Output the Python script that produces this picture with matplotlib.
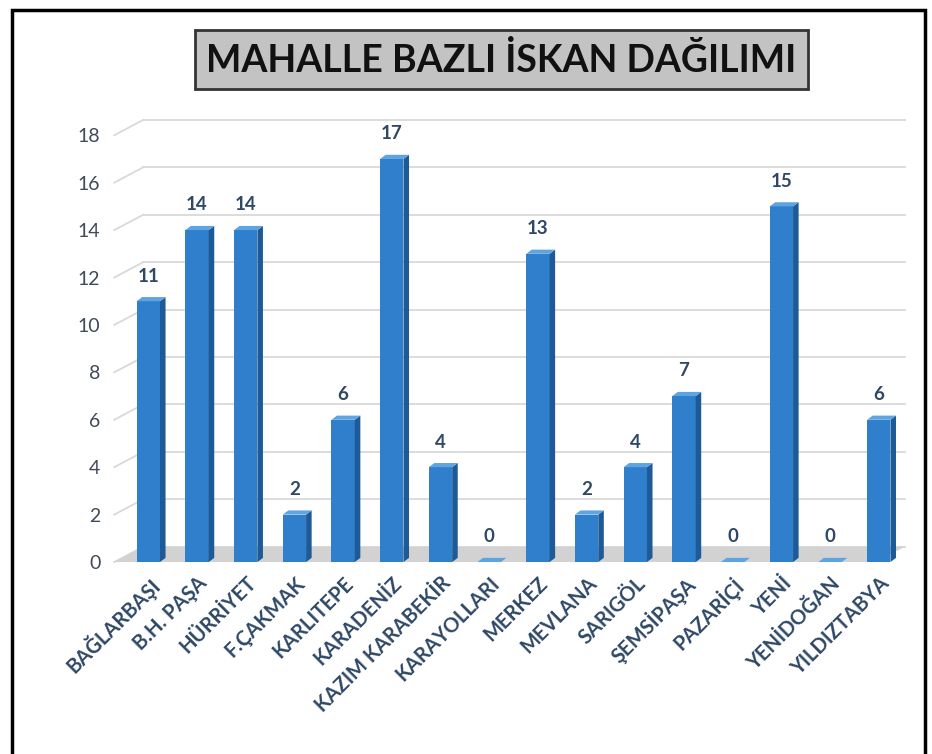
import matplotlib.pyplot as plt
import matplotlib.transforms as mtransforms
from matplotlib.patches import Polygon, Rectangle

# Mahalle names and counts
mahalleler = ['BAĞLARBAŞI', 'B.H. PAŞA', 'HÜRRİYET', 'F.ÇAKMAK', 'KARLITEPE',
              'KARADENİZ', 'KAZIM KARABEKİR', 'KARAYOLLARI', 'MERKEZ', 'MEVLANA',
              'SARIGÖL', 'ŞEMSİPAŞA', 'PAZARİÇİ', 'YENİ', 'YENİDOĞAN', 'YILDIZTABYA']
iskan = [11, 14, 14, 2, 6, 17, 4, 0, 13, 2, 4, 7, 0, 15, 0, 6]
y_ticks = [0, 2, 4, 6, 8, 10, 12, 14, 16, 18]

plt.rcParams['font.family'] = ['Lato', 'DejaVu Sans']
label_color = '#2e4866'

fig = plt.figure(figsize=(9.32, 7.54), dpi=100)
ax = fig.add_axes([0.133, 0.2546, 0.836, 0.566])
ax.set_xlim(-0.5, len(mahalleler) - 0.5)
ax.set_ylim(0, 18)
for s in ax.spines.values():
    s.set_visible(False)

# back wall offset (in points) for the pseudo 3D look
dx, dy = 12, 11
back = mtransforms.offset_copy(ax.transData, fig=fig, x=dx, y=dy, units='points')
depth = mtransforms.offset_copy(ax.transData, fig=fig, x=4, y=3, units='points')
inv = ax.transData.inverted()

x0, x1 = -0.5, len(mahalleler) - 0.5
for t in y_ticks:
    ax.plot([x0 + 0.05, x1 - 0.3], [t, t], color='#d9d9d9', lw=1.3,
            transform=back, clip_on=False, zorder=0)
    # slanted part from front to back wall
    a = inv.transform(ax.transData.transform((x0 - 0.2, t)))
    b = inv.transform(back.transform((x0 + 0.05, t)))
    ax.plot([a[0], b[0]], [a[1], b[1]], color='#d9d9d9', lw=1.3,
            clip_on=False, zorder=0)

# floor
f1 = ax.transData.transform((x0 - 0.2, 0))
f2 = ax.transData.transform((x1 - 0.6, 0))
f3 = back.transform((x1 - 0.3, 0))
f4 = back.transform((x0 + 0.05, 0))
floor = Polygon([inv.transform(p) for p in (f1, f2, f3, f4)], closed=True,
                facecolor='#d2d2d2', edgecolor='none', zorder=1, clip_on=False)
ax.add_patch(floor)

w = 0.48
bars = ax.bar(range(len(mahalleler)), iskan, width=w, color='#2f7fcc',
              edgecolor='none', zorder=3)
for b, v in zip(bars, iskan):
    xl, xr = b.get_x(), b.get_x() + b.get_width()
    fr_tr = ax.transData.transform((xr, v))
    fr_br = ax.transData.transform((xr, 0))
    fr_tl = ax.transData.transform((xl, v))
    bk_tr = depth.transform((xr, v))
    bk_br = depth.transform((xr, 0))
    bk_tl = depth.transform((xl, v))
    side = Polygon([inv.transform(p) for p in (fr_br, fr_tr, bk_tr, bk_br)],
                   facecolor='#1d5a96', edgecolor='none', zorder=3, clip_on=False)
    top = Polygon([inv.transform(p) for p in (fr_tl, fr_tr, bk_tr, bk_tl)],
                  facecolor='#5ea3e2', edgecolor='none', zorder=4, clip_on=False)
    ax.add_patch(side)
    ax.add_patch(top)
    ax.annotate(str(v), (b.get_x() + w / 2, v), xytext=(0, 12),
                textcoords='offset points', ha='center', va='bottom',
                fontsize=13.5, fontweight='bold', color=label_color)

ax.set_yticks(y_ticks)
ax.set_yticklabels([str(t) for t in y_ticks], fontsize=14, color='#404a58')
ax.tick_params(axis='y', length=0, pad=17)
ax.set_xticks(range(len(mahalleler)))
ax.set_xticklabels(mahalleler, rotation=45, ha='right', rotation_mode='anchor',
                   fontsize=14.5, fontweight='bold', color=label_color)
ax.tick_params(axis='x', length=0, pad=8)

fig.text(0.538, 0.921, 'MAHALLE BAZLI İSKAN DAĞILIMI', ha='center', va='center',
         fontsize=27, fontweight='bold', color='#111111',
         bbox=dict(boxstyle='square,pad=0.3', facecolor='#c3c3c3',
                   edgecolor='#333333', linewidth=2))

fig.patches.append(Rectangle((12 / 932, -0.05), 913 / 932, 1 - 10 / 754 + 0.05,
                             transform=fig.transFigure, fill=False,
                             edgecolor='black', linewidth=2.5))

fig.savefig('out.png', dpi=100)
